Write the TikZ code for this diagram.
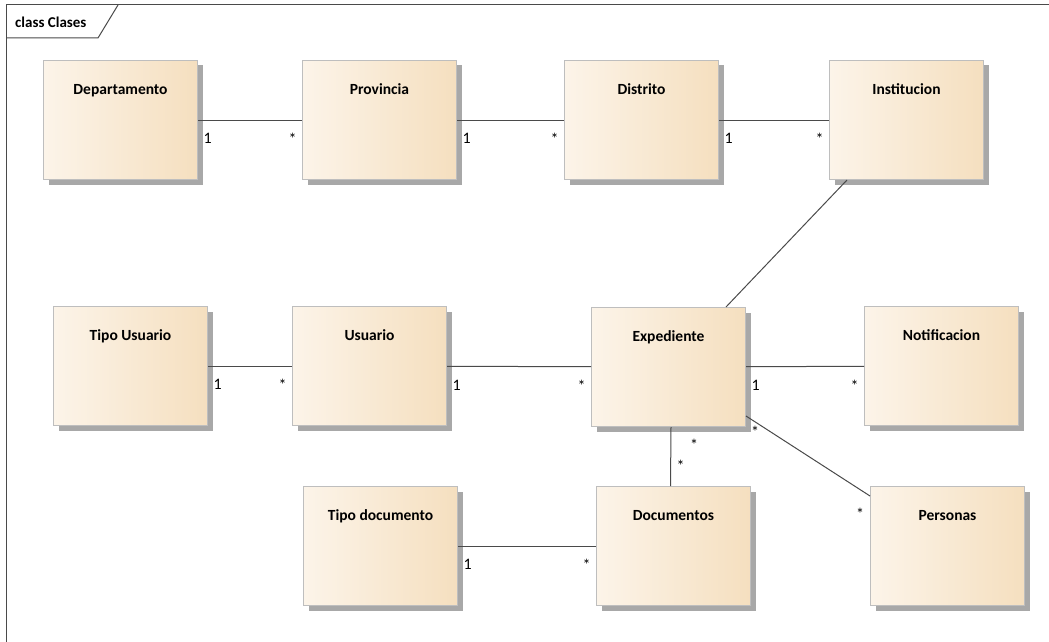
\documentclass[tikz,border=0pt]{standalone}
\usepackage{fontspec}
\setmainfont{Carlito}
\usetikzlibrary{shadows}
\definecolor{fondoizq}{HTML}{FCF4E9}
\definecolor{fondoder}{HTML}{F5DFBF}
\definecolor{borde}{HTML}{BEBEBE}
\definecolor{sombra}{HTML}{A8A8A8}
\definecolor{linea}{HTML}{4A4A4A}

\begin{document}
\begin{tikzpicture}[x=1pt,y=-1pt,
	clase/.style={rectangle, draw=borde, line width=1pt, left color=fondoizq, right color=fondoder,
		minimum width=154pt, inner sep=0pt, text height=34pt, text depth=85pt, anchor=north west,
		font=\bfseries\fontsize{15.5}{18}\selectfont,
		drop shadow={shadow xshift=5pt, shadow yshift=-5pt, opacity=1, fill=sombra}},
	asoc/.style={draw=linea, line width=1pt},
	mult/.style={inner sep=0pt, font=\fontsize{16}{19}\selectfont},
	uno/.style={mult, anchor=north west, xshift=5pt, yshift=-13pt},
	muchos/.style={mult, anchor=north east, xshift=-5pt, yshift=-13pt}]
					\useasboundingbox (0,0) rectangle (1049,642);
					\draw [linea, line width=1pt] (1049,5) -- (6,5) -- (6,642);
					\draw [linea, line width=1pt] (6,38) -- (98,38) -- (118,5);
					\node [anchor=west, inner sep=0pt, font=\bfseries\fontsize{15}{18}\selectfont] (titulo) at (15,22) {class Clases};
					
					\node [clase] (dep) at (43,60) {Departamento};
					\node [clase] (prov) at (302,60) {Provincia};
					\node [clase] (dis) at (564,60) {Distrito};
					\node [clase] (inst) at (829,60) {Institucion};
					\node [clase] (tusu) at (53,306) {Tipo Usuario};
					\node [clase] (usu) at (292,306) {Usuario};
					\node [clase] (exp) at (591,307) {Expediente};
					\node [clase] (notif) at (864,306) {Notificacion};
					\node [clase] (tdoc) at (303,486) {Tipo documento};
					\node [clase] (doc) at (596,486) {Documentos};
					\node [clase] (pers) at (870,486) {Personas};
					
					\draw [asoc] (dep) -- node[at start, uno] {1} node[at end, muchos] {*} (prov);
					\draw [asoc] (prov) -- node[at start, uno] {1} node[at end, muchos] {*} (dis);
					\draw [asoc] (dis) -- node[at start, uno] {1} node[at end, muchos] {*} (inst);
					\draw [asoc] (tusu) -- node[at start, uno] {1} node[at end, muchos] {*} (usu);
					\draw [asoc] (usu) -- node[at start, uno] {1} node[at end, muchos] {*} (exp);
					\draw [asoc] (exp) -- node[at start, uno] {1} node[at end, muchos] {*} (notif);
					\draw [asoc] (tdoc) -- node[at start, uno] {1} node[at end, muchos] {*} (doc);
					\draw [asoc] ([xshift=18pt]inst.south west) -- ([xshift=-20pt]exp.north east);
					\draw [asoc] ([xshift=2.5pt]exp.south) -- node[at start, mult, xshift=23pt, yshift=-18pt] {*}
						node[at end, mult, xshift=10pt, yshift=20pt] {*} ([xshift=-3pt]doc.north);
					\draw [asoc] ([yshift=11pt]exp.south east) -- node[at start, mult, xshift=9pt, yshift=-16pt] {*}
						node[at end, mult, xshift=-10pt, yshift=-18pt] {*} ([yshift=-10pt]pers.north west);
				\end{tikzpicture}
\end{document}
